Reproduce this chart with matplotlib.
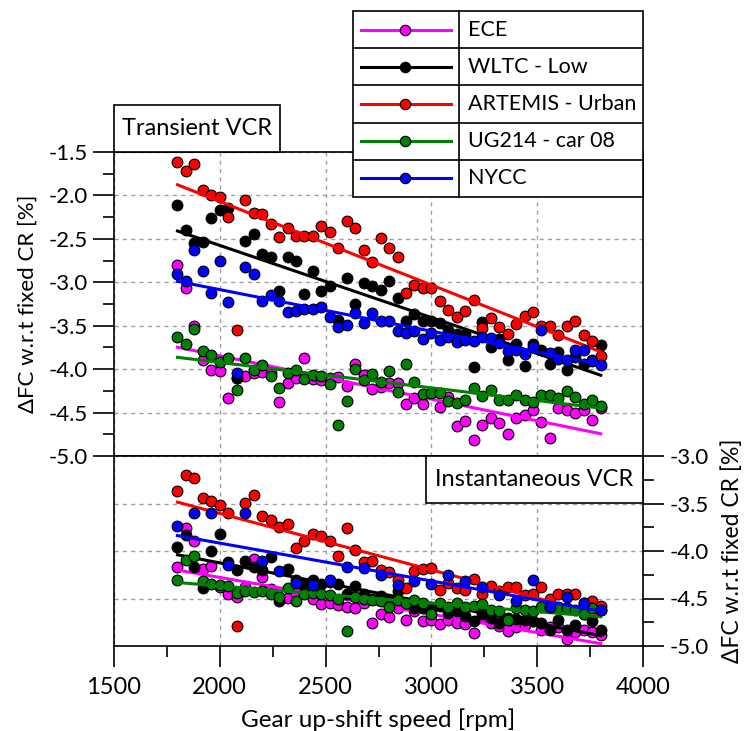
import numpy as np
import matplotlib.pyplot as plt
from matplotlib.patches import Rectangle
from matplotlib.lines import Line2D
from matplotlib.ticker import MultipleLocator

plt.rcParams['font.family'] = ['Lato', 'DejaVu Sans']
plt.rcParams['axes.unicode_minus'] = False

# gear up-shift speeds [rpm]
rpm = np.arange(1800, 3801, 40)
rpm_nycc_inst = np.arange(1800, 3801, 80)

cycles = ['ECE', 'WLTC - Low', 'ARTEMIS - Urban', 'UG214 - car 08', 'NYCC']
colors = ['#ff00ff', '#000000', '#ff0000', '#008000', '#0000ff']

# delta fuel consumption vs fixed CR [%], transient VCR
ece_trans = [-2.80, -3.07, -3.50, -3.90, -4.01, -4.02, -4.33, -4.10, -4.08, -4.05,
             -4.03, -4.05, -4.38, -4.16, -4.10, -3.87, -4.11, -4.12, -4.10, -4.09,
             -4.19, -3.94, -4.07, -4.23, -4.21, -4.16, -4.16, -4.40, -4.33, -4.40,
             -4.28, -4.44, -4.32, -4.65, -4.60, -4.82, -4.64, -4.56, -4.62, -4.75,
             -4.56, -4.53, -4.47, -4.61, -4.79, -4.45, -4.47, -4.50, -4.47, -4.58, -4.45]
wltc_trans = [-2.11, -2.40, -2.55, -2.54, -2.26, -2.17, -2.14, -4.10, -2.53, -2.44,
              -2.67, -2.71, -3.10, -2.71, -2.75, -3.13, -2.87, -3.10, -3.04, -3.43,
              -2.95, -3.25, -3.01, -3.04, -3.09, -2.99, -3.18, -3.44, -3.36, -3.45,
              -3.44, -3.47, -3.55, -3.60, -3.60, -3.97, -3.46, -3.74, -3.65, -3.90,
              -3.71, -3.96, -3.71, -3.78, -3.94, -3.80, -4.01, -3.86, -3.94, -3.90, -3.72]
artemis_trans = [-1.62, -1.72, -1.64, -1.94, -1.99, -2.02, -2.25, -3.55, -2.05, -2.20,
                 -2.21, -2.33, -2.48, -2.38, -2.47, -2.47, -2.47, -2.35, -2.42, -2.61,
                 -2.30, -2.37, -2.63, -2.77, -2.49, -2.61, -2.71, -3.12, -3.03, -3.07,
                 -3.07, -3.22, -3.32, -3.40, -3.33, -3.20, -3.53, -3.41, -3.52, -3.59,
                 -3.48, -3.39, -3.34, -3.50, -3.50, -3.61, -3.50, -3.45, -3.61, -3.68, -3.85]
ug214_trans = [-3.63, -3.71, -3.54, -3.79, -3.84, -3.92, -3.87, -4.24, -3.87, -4.01,
               -3.95, -4.08, -4.22, -4.04, -4.01, -4.11, -4.07, -4.08, -4.17, -4.64,
               -4.37, -4.00, -4.12, -4.06, -4.15, -4.02, -4.26, -3.94, -4.15, -4.29,
               -4.27, -4.28, -4.37, -4.39, -4.35, -4.22, -4.31, -4.24, -4.36, -4.35,
               -4.30, -4.35, -4.38, -4.30, -4.30, -4.33, -4.25, -4.32, -4.40, -4.35, -4.42]
nycc_trans = [-2.91, -2.99, -2.63, -2.87, -3.12, -2.75, -3.23, -4.05, -2.82, -2.91,
              -3.22, -3.15, -3.21, -3.34, -3.33, -3.31, -3.31, -3.29, -3.40, -3.51,
              -3.49, -3.35, -3.47, -3.35, -3.45, -3.45, -3.56, -3.58, -3.56, -3.65,
              -3.58, -3.66, -3.63, -3.69, -3.67, -3.68, -3.63, -3.64, -3.70, -3.79,
              -3.78, -3.83, -3.74, -3.55, -3.81, -3.88, -3.89, -3.78, -3.78, -3.91, -3.95]

# delta fuel consumption vs fixed CR [%], instantaneous VCR
ece_inst = [-4.17, -3.76, -3.89, -4.19, -4.16, -4.38, -4.45, -4.48, -4.38, -4.08,
            -4.27, -4.40, -4.48, -4.49, -4.44, -4.43, -4.51, -4.56, -4.55, -4.57,
            -4.59, -4.60, -4.55, -4.76, -4.66, -4.69, -4.60, -4.73, -4.63, -4.74,
            -4.73, -4.77, -4.73, -4.76, -4.77, -4.86, -4.69, -4.76, -4.79, -4.84,
            -4.80, -4.78, -4.74, -4.83, -4.80, -4.80, -4.93, -4.85, -4.83, -4.85, -4.88]
wltc_inst = [-3.96, -3.83, -4.17, -4.39, -4.00, -3.82, -4.12, -4.20, -4.10, -4.17,
             -4.20, -4.06, -4.53, -4.19, -4.30, -4.35, -4.30, -4.35, -4.33, -4.35,
             -4.45, -4.37, -4.45, -4.50, -4.47, -4.52, -4.42, -4.55, -4.60, -4.60,
             -4.62, -4.58, -4.65, -4.63, -4.68, -4.74, -4.66, -4.70, -4.76, -4.71,
             -4.72, -4.73, -4.74, -4.76, -4.83, -4.73, -4.83, -4.78, -4.66, -4.74, -4.83]
artemis_inst = [-3.37, -3.20, -3.23, -3.44, -3.47, -3.52, -3.60, -4.79, -3.49, -3.41,
                -3.63, -3.67, -3.75, -3.72, -3.97, -3.89, -3.82, -3.84, -3.89, -4.05,
                -3.76, -3.99, -4.12, -4.11, -4.20, -4.22, -4.31, -4.39, -4.21, -4.19,
                -4.18, -4.41, -4.34, -4.39, -4.41, -4.29, -4.45, -4.37, -4.42, -4.38,
                -4.38, -4.46, -4.45, -4.38, -4.50, -4.45, -4.45, -4.45, -4.55, -4.53, -4.58]
ug214_inst = [-4.31, -4.09, -4.05, -4.32, -4.35, -4.36, -4.37, -4.44, -4.42, -4.43,
              -4.42, -4.45, -4.48, -4.39, -4.53, -4.45, -4.44, -4.45, -4.46, -4.51,
              -4.84, -4.48, -4.51, -4.52, -4.53, -4.59, -4.52, -4.55, -4.52, -4.55,
              -4.66, -4.55, -4.59, -4.55, -4.59, -4.58, -4.56, -4.62, -4.63, -4.73,
              -4.60, -4.62, -4.63, -4.59, -4.59, -4.59, -4.60, -4.62, -4.66, -4.60, -4.62]
nycc_inst = [-3.74, -3.60, -3.60, -4.15, -3.60, -4.11, -4.21, -4.34, -4.36, -4.31,
             -4.17, -4.18, -4.25, -4.36, -4.32, -4.35, -4.25, -4.32, -4.38, -4.46,
             -4.53, -4.30, -4.59, -4.48, -4.55, -4.62]

transient = [(rpm, ece_trans), (rpm, wltc_trans), (rpm, artemis_trans),
             (rpm, ug214_trans), (rpm, nycc_trans)]
instant = [(rpm, ece_inst), (rpm, wltc_inst), (rpm, artemis_inst),
           (rpm, ug214_inst), (rpm_nycc_inst, nycc_inst)]

W, H = 745, 731
fig = plt.figure(figsize=(W / 100, H / 100), dpi=100)


def fx(px):
    return px / W


def fy(py):
    return 1 - py / H


left, right = 114, 643
ax1 = fig.add_axes([fx(left), fy(456), fx(right - left), (456 - 152) / H])
ax2 = fig.add_axes([fx(left), fy(646), fx(right - left), (646 - 456) / H])

grid_kw = dict(color='#a0a0a0', linestyle=(0, (3, 3)), linewidth=1.0)


def draw_panel(ax, series):
    for (x, y), c in zip(series, colors):
        x = np.asarray(x, float)
        y = np.asarray(y, float)
        ax.scatter(x, y, s=60, color=c, edgecolors='black', linewidths=0.8, zorder=3)
        # linear trend through each cycle
        coef = np.polyfit(x, y, 1)
        xf = np.array([x.min(), x.max()])
        ax.plot(xf, np.polyval(coef, xf), color=c, linewidth=2.2, zorder=3)
    ax.set_xlim(1500, 4000)
    ax.xaxis.set_major_locator(MultipleLocator(500))
    ax.xaxis.set_minor_locator(MultipleLocator(250))
    ax.yaxis.set_major_locator(MultipleLocator(0.5))
    ax.yaxis.set_minor_locator(MultipleLocator(0.25))
    ax.yaxis.set_major_formatter(plt.FormatStrFormatter('%.1f'))
    ax.grid(True, which='major', **grid_kw)
    for sp in ax.spines.values():
        sp.set_linewidth(1.2)
    ax.tick_params(which='both', direction='out', width=1.2)
    ax.tick_params(which='major', length=15)
    ax.tick_params(which='minor', length=8)
    ax.tick_params(axis='x', labelsize=17, pad=7)
    ax.tick_params(axis='y', labelsize=16, pad=4)


draw_panel(ax1, transient)
draw_panel(ax2, instant)

ax1.set_ylim(-5.0, -1.5)
ax1.tick_params(axis='x', which='both', bottom=False, labelbottom=False)
ax1.tick_params(axis='y', which='both', left=True, right=False)

ax2.set_ylim(-5.0, -3.0)
ax2.yaxis.tick_right()
ax2.tick_params(axis='y', which='both', left=False, right=True,
                labelleft=False, labelright=True)

fig.text(fx(378.5), fy(720), 'Gear up-shift speed [rpm]', ha='center', va='center',
         fontsize=17.5)
fig.text(fx(28), fy(304), 'ΔFC w.r.t fixed CR [%]', rotation=90,
         ha='center', va='center', fontsize=16)
fig.text(fx(732), fy(551), 'ΔFC w.r.t fixed CR [%]', rotation=90,
         ha='center', va='center', fontsize=16.5)


def boxed_label(x0, y0, x1, y1, text):
    fig.patches.append(Rectangle((fx(x0), fy(y1)), fx(x1 - x0), (y1 - y0) / H,
                                 transform=fig.transFigure, facecolor='white',
                                 edgecolor='black', linewidth=1.2, zorder=5))
    fig.text(fx((x0 + x1) / 2), fy((y0 + y1) / 2), text, ha='center',
             va='center', fontsize=17, zorder=6)


boxed_label(114, 105, 280, 152, 'Transient VCR')
boxed_label(426, 456, 643, 503, 'Instantaneous VCR')

# legend drawn as a bordered table
lx0, lx1, ldiv = 353, 643, 459
ly0, row_h = 11, 37.2
fig.patches.append(Rectangle((fx(lx0), fy(ly0 + row_h * len(cycles))), fx(lx1 - lx0),
                             row_h * len(cycles) / H, transform=fig.transFigure,
                             facecolor='white', edgecolor='black', linewidth=1.2,
                             zorder=5))
fig.lines.append(Line2D([fx(ldiv), fx(ldiv)], [fy(ly0), fy(ly0 + row_h * len(cycles))],
                        transform=fig.transFigure, color='black', linewidth=1.2, zorder=6))
for k, (name, c) in enumerate(zip(cycles, colors)):
    yc = ly0 + row_h * (k + 0.5)
    if k > 0:
        fig.lines.append(Line2D([fx(lx0), fx(lx1)], [fy(ly0 + row_h * k)] * 2,
                                transform=fig.transFigure, color='black',
                                linewidth=1.2, zorder=6))
    fig.lines.append(Line2D([fx(361), fx(451)], [fy(yc)] * 2, transform=fig.transFigure,
                            color=c, linewidth=2.2, zorder=6))
    fig.lines.append(Line2D([fx(405)], [fy(yc)], transform=fig.transFigure, marker='o',
                            markersize=7.5, markerfacecolor=c, markeredgecolor='black',
                            markeredgewidth=0.8, zorder=7))
    fig.text(fx(468), fy(yc), name, ha='left', va='center', fontsize=15.5, zorder=7)

fig.savefig('out.png', dpi=100)
